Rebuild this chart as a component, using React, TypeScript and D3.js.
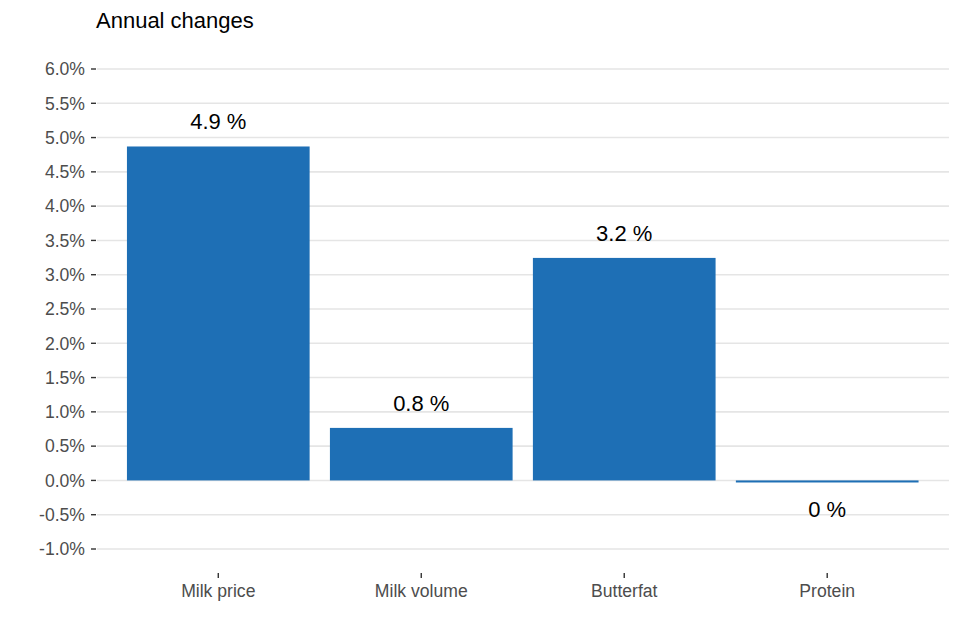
import React from "react";
import * as d3 from "d3";

const categories = ["Milk price", "Milk volume", "Butterfat", "Protein"];
const values = [4.87, 0.766, 3.245, -0.03];
const yTicks = [-1.0, -0.5, 0.0, 0.5, 1.0, 1.5, 2.0, 2.5, 3.0, 3.5, 4.0, 4.5, 5.0, 5.5, 6.0];
const title = "Annual changes";

const W = 960;
const H = 640;
const FONT = "'Liberation Sans', Arial, sans-serif";

function fmtLabel(v: number): string {
  const r = Math.round(v * 10) / 10;
  const s = Object.is(r, -0) || r === 0 ? "0" : String(r);
  return `${s} %`;
}

export default function App() {
  const x = d3
    .scaleBand<string>()
    .domain(categories)
    .range([96.5, 949])
    .paddingInner(0.1)
    .paddingOuter(0.15);
  const y = d3.scaleLinear().domain([-1, 6]).range([549, 69]);
  const gridX0 = 97;
  const gridX1 = 949;

  return (
    <svg
      width={W}
      height={H}
      style={{ position: "absolute", left: 0, top: 0, background: "#fff" }}
      fontFamily={FONT}
    >
      <rect x={0} y={0} width={W} height={H} fill="#fff" />
      <text x={96} y={27.7} fontSize={22} fill="#000">
        {title}
      </text>
      {yTicks.map((t) => (
        <g key={t}>
          <line x1={gridX0} x2={gridX1} y1={y(t)} y2={y(t)} stroke="#e5e5e5" strokeWidth={1.6} />
          <line x1={91} x2={96} y1={y(t)} y2={y(t)} stroke="#333" strokeWidth={1.4} />
          <text
            x={85}
            y={y(t)}
            dy="0.36em"
            textAnchor="end"
            fontSize={17.6}
            fill="#4d4d4d"
          >
            {t.toFixed(1) + "%"}
          </text>
        </g>
      ))}
      {categories.map((c, i) => {
        const v = values[i];
        const y0 = y(0);
        const yv = y(v);
        const top = Math.min(y0, yv);
        const h = Math.abs(yv - y0);
        const cx = (x(c) as number) + x.bandwidth() / 2;
        return (
          <g key={c}>
            <rect x={x(c)} y={top} width={x.bandwidth()} height={h} fill="#1e6fb5" />
            <text
              x={cx}
              y={v >= 0 ? yv - 17.4 : yv + 34.6}
              textAnchor="middle"
              fontSize={22}
              fill="#000"
            >
              {fmtLabel(v)}
            </text>
            <line x1={cx} x2={cx} y1={573} y2={578} stroke="#333" strokeWidth={1.4} />
            <text x={cx} y={596.7} textAnchor="middle" fontSize={17.6} fill="#4d4d4d">
              {c}
            </text>
          </g>
        );
      })}
    </svg>
  );
}
